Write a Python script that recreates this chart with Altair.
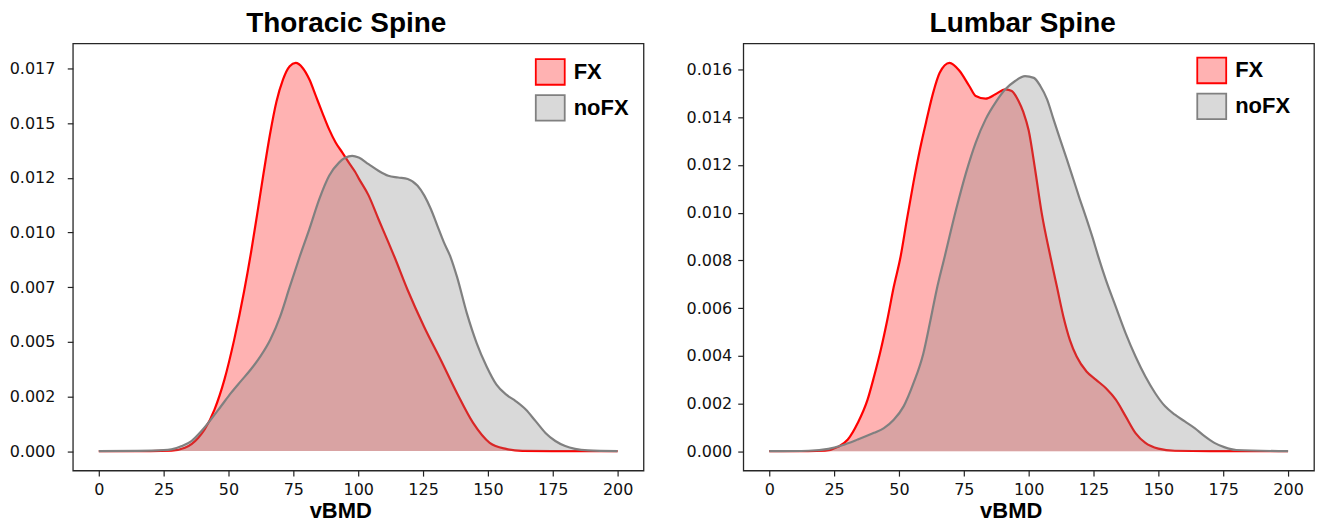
import altair as alt
import pandas as pd

groups = ["FX", "noFX"]
fill_colors = ["rgba(255,0,0,0.3)", "rgba(128,128,128,0.3)"]
line_colors = ["#ff0000", "#808080"]

# ---- Thoracic Spine ----
th_fx_x = [0, 20, 28, 33.2, 38.3, 40.8, 44.6, 48.4, 52.2, 56, 58.7, 61, 63.5, 66, 68.5, 71, 73.6, 75.9, 78.6, 81.2,
           83.7, 86.2, 88.8, 91.3, 93.9, 96.4, 98.8, 100.2, 104, 107.8, 111.6, 114, 119.1, 125.4, 131.8, 138.1, 144.3,
           150.7, 157, 163.3, 175, 200]
th_fx_y = [0, 0, 0.00002, 0.00015, 0.0006, 0.00099, 0.0019, 0.00326, 0.0051, 0.0073, 0.0091, 0.0108, 0.0127,
           0.0145, 0.0160, 0.0170, 0.01761, 0.01776, 0.01753, 0.0170, 0.01624, 0.01548, 0.01472, 0.01412, 0.01366,
           0.0132, 0.01278, 0.01248, 0.0117, 0.01062, 0.00956, 0.00888, 0.00736, 0.00569, 0.00418, 0.00265, 0.00129,
           0.00038, 0.0001, 0.00001, 0, 0]
th_no_x = [0, 15, 25, 28, 32, 35.7, 39.5, 43.2, 47.1, 50.9, 54.7, 58.5, 62.3, 66.1, 69.9, 73.6, 77.4, 81.2, 85, 88.8,
           92.6, 95.1, 97.7, 100.2, 104, 107.8, 111.6, 115.4, 119.1, 122.9, 125.5, 128, 130.5, 133, 135.6, 138.1,
           141.9, 145.7, 149.5, 153.3, 157.1, 160.8, 164.6, 168.4, 172.2, 176, 179.8, 183.6, 188.6, 200]
th_no_y = [0, 0.00001, 0.00004, 0.00008, 0.00023, 0.00046, 0.00091, 0.00144, 0.00205, 0.00265, 0.00319, 0.00372,
           0.00433, 0.00509, 0.00615, 0.00751, 0.00888, 0.01017, 0.01153, 0.0126, 0.0132, 0.01343, 0.01351, 0.01343,
           0.01313, 0.01283, 0.0126, 0.01252, 0.01245, 0.01214, 0.01169, 0.01108, 0.01032, 0.00956, 0.00888, 0.00797,
           0.0063, 0.00493, 0.00387, 0.00304, 0.00258, 0.00228, 0.0019, 0.00137, 0.00083, 0.00046, 0.00023, 0.0001,
           0.00003, 0]

# ---- Lumbar Spine ----
lu_fx_x = [0, 15, 21.5, 26.5, 30.3, 34.1, 37.9, 40.4, 43, 45.5, 48, 50.6, 53.1, 55.6, 58.1, 60.7, 63.2, 65.7, 69.5,
           73.3, 77.1, 79.6, 83.4, 87.2, 91, 93.5, 96.1, 98, 100, 102.5, 105, 108.5, 110.9, 113.4, 115.9, 118.5, 122.3,
           126, 129.8, 133.6, 137.4, 141.2, 145, 150, 156.4, 170, 200]
lu_fx_y = [0, 0, 0.00002, 0.00018, 0.00049, 0.00118, 0.00216, 0.00313, 0.00425, 0.0055, 0.00689, 0.00814, 0.00974,
           0.01127, 0.01266, 0.01391, 0.01503, 0.01586, 0.01628, 0.01595, 0.01531, 0.01489, 0.01478, 0.01496, 0.01517,
           0.0151, 0.01468, 0.0142, 0.01345, 0.0118, 0.0100, 0.0081, 0.00689, 0.00564, 0.00466, 0.00397, 0.00334,
           0.00299, 0.00264, 0.00216, 0.00146, 0.00076, 0.00035, 0.00011, 0.00002, 0, 0]
lu_no_x = [0, 15.2, 22.8, 27.8, 34.1, 40.4, 44.2, 48, 51.8, 55.6, 59.4, 61.9, 64.5, 67.6, 72.1, 75.9, 79.6, 83.4, 87.2,
           91, 94.8, 98.6, 102, 104.5, 107.1, 109.6, 112.1, 114.7, 117.2, 119.7, 122.3, 124.8, 126.7, 129.8, 133.6,
           137.4, 141.2, 145, 148.8, 152.6, 156.4, 160.2, 164, 167.8, 171.6, 175.4, 180, 200]
lu_no_y = [0, 0.00002, 0.0001, 0.00024, 0.00049, 0.00077, 0.00097, 0.00132, 0.00188, 0.00285, 0.0041, 0.00536, 0.00675,
           0.00814, 0.01016, 0.01169, 0.01294, 0.01391, 0.01461, 0.01517, 0.01552, 0.01572, 0.01565, 0.01531, 0.01475,
           0.01391, 0.01308, 0.01224, 0.01141, 0.01057, 0.00974, 0.0089, 0.00821, 0.00717, 0.00605, 0.00494, 0.00397,
           0.00313, 0.00243, 0.00188, 0.00153, 0.00125, 0.00097, 0.00063, 0.00035, 0.00017, 0.00005, 0]

x_ticks = [0, 25, 50, 75, 100, 125, 150, 175, 200]
th_y_ticks = [0, 0.0025, 0.005, 0.0075, 0.01, 0.0125, 0.015, 0.0175]
th_y_labels = ["0.000", "0.002", "0.005", "0.007", "0.010", "0.012", "0.015", "0.017"]
lu_y_ticks = [0, 0.002, 0.004, 0.006, 0.008, 0.01, 0.012, 0.014, 0.016]
lu_y_labels = ["0.000", "0.002", "0.004", "0.006", "0.008", "0.010", "0.012", "0.014", "0.016"]

W, H = 572, 428
PATCH = "M-1,-0.885H1V0.885H-1Z"
BOLD = "Liberation Sans"


def label_expr(ticks, labels):
    labs = "[" + ",".join("'%s'" % l for l in labels) + "]"
    vals = "[" + ",".join(repr(t) for t in ticks) + "]"
    return "%s[indexof(%s, datum.value)]" % (labs, vals)


def panel(title, fx_x, fx_y, no_x, no_y, ydom, yticks, ylabels, title_dx, lx, ly, ypad):
    df = pd.concat([
        pd.DataFrame({"vBMD": fx_x, "density": fx_y, "group": "FX"}),
        pd.DataFrame({"vBMD": no_x, "density": no_y, "group": "noFX"}),
    ])
    x = alt.X("vBMD:Q", scale=alt.Scale(domain=[-10, 210], nice=False, zero=False),
              axis=alt.Axis(values=x_ticks, title="vBMD", titleFont=BOLD, titleFontSize=22,
                            titleFontWeight="bold", titleColor="#000", titleX=268, titlePadding=3,
                            tickSize=5.6, labelPadding=5, labelFlush=False))
    y = alt.Y("density:Q", scale=alt.Scale(domain=ydom, nice=False, zero=False),
              axis=alt.Axis(values=yticks, labelExpr=label_expr(yticks, ylabels), title=None,
                            tickSize=5.6, labelPadding=ypad))
    base = alt.Chart(df).encode(x=x, y=y)
    y2 = alt.datum(0)
    fx = base.transform_filter(alt.datum.group == "FX")
    no = base.transform_filter(alt.datum.group == "noFX")
    a_fx = fx.mark_area(color="#ff0000", fillOpacity=0.3, interpolate="monotone").encode(y2=y2)
    l_fx = fx.mark_line(color="#ff0000", strokeWidth=2.2, interpolate="monotone")
    a_no = no.mark_area(color="#808080", fillOpacity=0.3, interpolate="monotone").encode(y2=y2)
    l_no = no.mark_line(color="#808080", strokeWidth=2.2, interpolate="monotone")
    leg = alt.Legend(title=None, orient="none", legendX=lx, legendY=ly, symbolType=PATCH, symbolSize=841,
                     symbolStrokeWidth=1.8, labelFont=BOLD, labelFontSize=22, labelFontWeight="bold",
                     labelColor="#000", labelOffset=8, rowPadding=3, padding=0)
    legend_layer = base.transform_filter("false").mark_point(
        shape=PATCH, filled=True, opacity=1, strokeWidth=1.8, size=841).encode(
        fill=alt.Fill("group:N", scale=alt.Scale(domain=groups, range=fill_colors), legend=leg),
        stroke=alt.Stroke("group:N", scale=alt.Scale(domain=groups, range=line_colors), legend=leg),
    )
    return alt.layer(a_fx, l_fx, a_no, l_no, legend_layer).properties(
        width=W, height=H,
        title=alt.TitleParams(title, font=BOLD, fontSize=28, fontWeight="bold", color="#000",
                              anchor="middle", frame="group", dx=title_dx, offset=-16, baseline="alphabetic"),
    )


left = panel("Thoracic Spine", th_fx_x, th_fx_y, th_no_x, th_no_y, [-0.00089, 0.01865],
             th_y_ticks, th_y_labels, -12, 463, 13, 12.4)
right = panel("Lumbar Spine", lu_fx_x, lu_fx_y, lu_no_x, lu_no_y, [-0.00081, 0.01709],
              lu_y_ticks, lu_y_labels, -6, 454, 11.5, 6)

chart = alt.hconcat(left, right, spacing=40).resolve_scale(
    x="independent", y="independent", fill="independent", stroke="independent"
).resolve_legend(fill="independent", stroke="independent").properties(padding=0).configure_view(
    stroke="#262626", strokeWidth=1.3
).configure_axis(
    labelFont="DejaVu Sans", labelFontSize=16, labelColor="#111", tickColor="#222", tickWidth=1.2,
    grid=False, domain=False
)

chart.save("out.html", embed_options={"renderer": "svg", "actions": False})
